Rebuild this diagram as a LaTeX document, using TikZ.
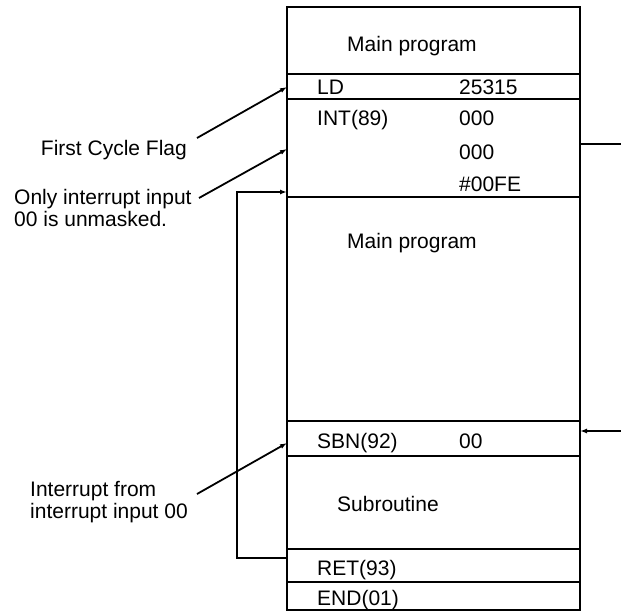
\documentclass[tikz,border=0pt]{standalone}
\usepackage{fontspec}
\setmainfont{Liberation Sans}
\usetikzlibrary{arrows.meta}
\begin{document}
\begin{tikzpicture}[x=1pt,y=-1pt,
  boxline/.style={line width=2.2pt},
  conn/.style={line width=1.8pt},
  arr/.style={conn,-{Latex[length=7pt,width=5pt]}},
  txt/.style={inner sep=0pt,anchor=base west,font=\fontsize{21}{22}\selectfont},
  lbl/.style={inner sep=0pt,font=\fontsize{21}{22}\selectfont,align=left}]
\useasboundingbox (0,0) rectangle (621,613);
% program box
\draw[boxline] (287,7) rectangle (580,610);
\foreach \yy in {74,99,197,421,456,549,582}
  \draw[boxline] (287,\yy) -- (580,\yy);
% texts in box
\node[txt] (mp1) at (347,51) {Main program};
\node[txt] (ld) at (317,94) {LD};
\node[txt] (ldop) at (459,94) {25315};
\node[txt] (int) at (317,125) {INT(89)};
\node[txt] (intop1) at (459,125) {000};
\node[txt] (intop2) at (459,159) {000};
\node[txt] (intop3) at (459,191) {\#00FE};
\node[txt] (mp2) at (347,248) {Main program};
\node[txt] (sbn) at (317,448) {SBN(92)};
\node[txt] (sbnop) at (459,448) {00};
\node[txt] (sub) at (337,511) {Subroutine};
\node[txt] (ret) at (317,575) {RET(93)};
\node[txt] (end) at (317,605) {END(01)};
% left labels
\node[lbl,anchor=base east] (fcf) at (187,155) {First Cycle Flag};
\node[lbl,anchor=west] (only) at (14,208) {Only interrupt input\\00 is unmasked.};
\node[lbl,anchor=west] (intr) at (30,502) {Interrupt from\\interrupt input 00};
% connector end points
\coordinate (fcfS) at (197,138);
\coordinate (fcfE) at (287,87);
\coordinate (onlyS) at (199,198);
\coordinate (onlyE) at (287,149);
\coordinate (intrS) at (197,494);
\coordinate (intrE) at (287,443);
\coordinate (retL) at (287,558);
\coordinate (loopB) at (237,558);
\coordinate (loopT) at (237,192);
\coordinate (mainL) at (287,192);
\coordinate (intR) at (580,144);
\coordinate (outR) at (621,144);
\coordinate (inR) at (621,431);
\coordinate (sbnR) at (580,431);
% connectors
\draw[arr] (fcfS) -- (fcfE);
\draw[arr] (onlyS) -- (onlyE);
\draw[arr] (intrS) -- (intrE);
\draw[arr] (retL) -- (loopB) -- (loopT) -- (mainL);
\draw[conn] (intR) -- (outR);
\draw[arr] (inR) -- (sbnR);
\end{tikzpicture}
\end{document}
